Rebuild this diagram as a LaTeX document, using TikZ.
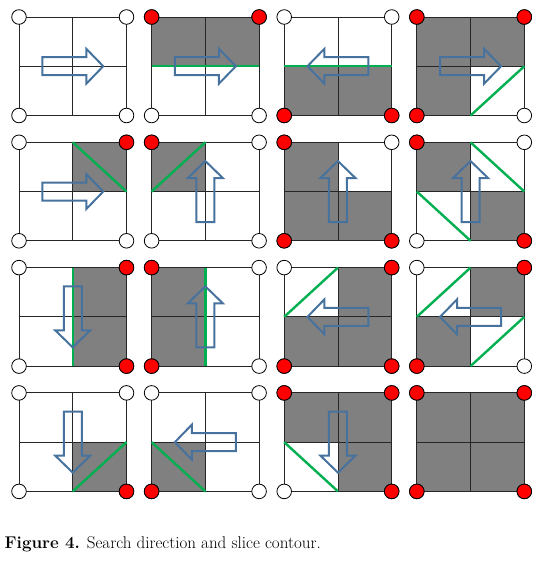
\documentclass[tikz,border=0pt]{standalone}
\usepackage{xcolor}
\definecolor{cellgray}{RGB}{128,128,128}
\definecolor{contourgreen}{RGB}{0,176,80}
\definecolor{arrowblue}{RGB}{71,114,158}
\definecolor{pointred}{RGB}{255,0,0}

\begin{document}
\begin{tikzpicture}[x=1pt,y=-1pt]

	% Parameters
	\def\xo{19}
	\def\yo{17}
	\def\cw{107.5}
	\def\ch{98.5}
	\def\dx{132.6}
	\def\dy{125.3}
	\def\rad{7.3}
	\useasboundingbox (0,0) rectangle (554,577);

	% inside corners (col/row/qx/qy)
	\def\redcorners{1/0/0/0, 1/0/1/0, 2/0/0/1, 2/0/1/1, 3/0/0/0, 3/0/1/0, 3/0/0/1,
		0/1/1/0, 1/1/0/0, 2/1/0/0, 2/1/0/1, 2/1/1/1, 3/1/0/0, 3/1/1/1,
		0/2/1/0, 0/2/1/1, 1/2/0/0, 1/2/0/1, 2/2/1/0, 2/2/0/1, 2/2/1/1, 3/2/1/0, 3/2/0/1,
		0/3/1/1, 1/3/0/1, 2/3/0/0, 2/3/1/0, 2/3/1/1, 3/3/0/0, 3/3/1/0, 3/3/0/1, 3/3/1/1}

	% filled quadrants
	\foreach \c/\r/\qx/\qy in \redcorners {
		\fill[cellgray] (\xo+\c*\dx+\qx*\cw/2, \yo+\r*\dy+\qy*\ch/2) rectangle ++(\cw/2,\ch/2);
	}

	% cell grid
	\foreach \c in {0,...,3} {
		\foreach \r in {0,...,3} {
			\draw[black!85, line width=0.9pt] (\xo+\c*\dx, \yo+\r*\dy) rectangle ++(\cw,\ch);
			\draw[black!85, line width=0.9pt] (\xo+\c*\dx+\cw/2, \yo+\r*\dy) -- ++(0,\ch)
				(\xo+\c*\dx, \yo+\r*\dy+\ch/2) -- ++(\cw,0);
		}
	}

	% slice contour (col/row/from/to, in cell units)
	\foreach \c/\r/\ax/\ay/\bx/\by in {1/0/0/0.5/1/0.5, 2/0/0/0.5/1/0.5, 3/0/0.5/1/1/0.5,
		0/1/0.5/0/1/0.5, 1/1/0/0.5/0.5/0, 3/1/0.5/0/1/0.5, 3/1/0/0.5/0.5/1,
		0/2/0.5/0/0.5/1, 1/2/0.5/0/0.5/1, 2/2/0/0.5/0.5/0, 3/2/0/0.5/0.5/0, 3/2/0.5/1/1/0.5,
		0/3/0.5/1/1/0.5, 1/3/0/0.5/0.5/1, 2/3/0/0.5/0.5/1} {
		\draw[contourgreen, line width=2.4pt]
		(\xo+\c*\dx+\ax*\cw, \yo+\r*\dy+\ay*\ch) -- (\xo+\c*\dx+\bx*\cw, \yo+\r*\dy+\by*\ch);
	}

	% search direction
	\foreach \c/\r/\ang in {0/0/0, 1/0/0, 2/0/180, 3/0/0,
		0/1/0, 1/1/90, 2/1/90, 3/1/90,
		0/2/270, 1/2/90, 2/2/180, 3/2/180,
		0/3/270, 1/3/180, 2/3/270} {
		\begin{scope}[shift={(\xo+\c*\dx+\cw/2, \yo+\r*\dy+\ch/2)}, rotate=\ang]
			\draw[arrowblue, line width=2pt, line join=miter]
			(-30.5,-9) -- (13.5,-9) -- (13.5,-17.5) -- (30.5,0) -- (13.5,17.5) -- (13.5,9) -- (-30.5,9) -- cycle;
		\end{scope}
	}

	% corner points
	\foreach \c in {0,...,3} {
		\foreach \r in {0,...,3} {
			\foreach \qx/\qy in {0/0, 1/0, 0/1, 1/1} {
				\filldraw[fill=white, draw=black, line width=0.8pt]
				(\xo+\c*\dx+\qx*\cw, \yo+\r*\dy+\qy*\ch) circle (\rad pt);
			}
		}
	}
	\foreach \c/\r/\qx/\qy in \redcorners {
		\filldraw[fill=pointred, draw=black, line width=0.8pt]
		(\xo+\c*\dx+\qx*\cw, \yo+\r*\dy+\qy*\ch) circle (\rad pt);
	}

	% caption
	\node[anchor=base west, inner sep=0pt, font=\fontsize{17}{21}\selectfont] (caption) at (4.5,548)
	{\textbf{Figure 4.} Search direction and slice contour.};

\end{tikzpicture}
\end{document}
